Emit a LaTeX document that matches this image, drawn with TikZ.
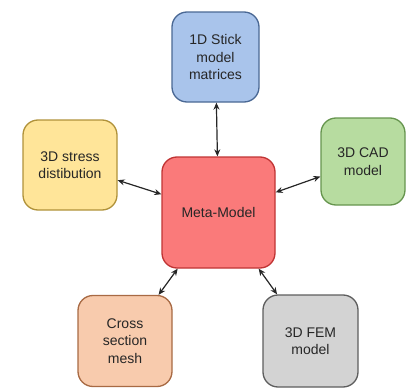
\documentclass[tikz,border=0pt]{standalone}
\usepackage{fontspec}
\setmainfont{Liberation Sans}
\usetikzlibrary{positioning,arrows.meta}

\definecolor{stickfill}{HTML}{A9C4EB}
\definecolor{stickline}{HTML}{4A6894}
\definecolor{stressfill}{HTML}{FFE599}
\definecolor{stressline}{HTML}{B0923A}
\definecolor{metafill}{HTML}{FA7A7A}
\definecolor{metaline}{HTML}{C03434}
\definecolor{cadfill}{HTML}{B7DCA0}
\definecolor{cadline}{HTML}{66954E}
\definecolor{crossfill}{HTML}{F8CBAD}
\definecolor{crossline}{HTML}{A86A44}
\definecolor{femfill}{HTML}{D3D3D3}
\definecolor{femline}{HTML}{5E5E5E}

\begin{document}
\begin{tikzpicture}[
    x=1pt, y=-1pt,
    box/.style = {
        rectangle, rounded corners=15pt, draw, line width=1.3pt,
        inner sep=0pt, align=center,
        font=\fontsize{14}{17.5}\selectfont, text=black!85
    },
    arrow/.style = {{Stealth[length=7pt,width=6pt]}-{Stealth[length=7pt,width=6pt]}, line width=1.2pt, black!85}
]
\useasboundingbox (0,0) rectangle (408,388);

% Centre
\node[box, fill=metafill, draw=metaline, minimum width=113pt, minimum height=111pt] (meta) at (218.5,212.5) {Meta-Model};

% Surrounding models
\node[box, fill=stickfill, draw=stickline, minimum width=87pt, minimum height=90pt] (stick) at (215.5,57) {1D Stick\\model\\matrices};
\node[box, fill=stressfill, draw=stressline, minimum width=94pt, minimum height=90pt] (stress) at (70,165) {3D stress\\distibution};
\node[box, fill=cadfill, draw=cadline, minimum width=84pt, minimum height=87pt] (cad) at (363,161.5) {3D CAD\\model};
\node[box, fill=crossfill, draw=crossline, minimum width=94pt, minimum height=91pt] (cross) at (125,341) {Cross\\section\\mesh};
\node[box, fill=femfill, draw=femline, minimum width=95pt, minimum height=92pt] (fem) at (310.5,341) {3D FEM\\model};

% Arrows
\draw[arrow] (meta) -- (stick);
\draw[arrow] (meta) -- (stress);
\draw[arrow] (meta) -- (cad);
\draw[arrow] (meta) -- (cross);
\draw[arrow] (meta) -- (fem);

\end{tikzpicture}
\end{document}
